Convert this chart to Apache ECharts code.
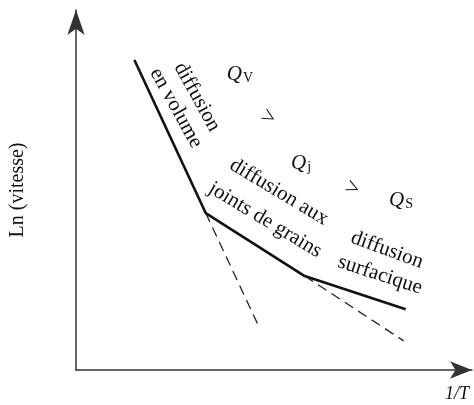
<!DOCTYPE html>
<html>
<head>
<meta charset="utf-8">
<script src="https://cdn.jsdelivr.net/npm/echarts@6/dist/echarts.min.js"></script>
<style>
html, body { margin: 0; padding: 0; background: #fff; }
#chart { width: 474px; height: 405px; }
</style>
</head>
<body>
<div id="chart"></div>
<script>
// abstract units: x 0..100 along 1/T, y 0..100 along Ln(vitesse)
var solidLine = [[14.75, 86.1], [32.75, 43.6], [57.75, 26.1], [83.25, 16.9]];
var dashVolume = [[32.75, 43.6], [46.25, 11.9]];
var dashJoints = [[57.75, 26.1], [82.75, 8.1]];
var axisNames = ['1/T', 'Ln (vitesse)'];

var serif = '"Liberation Serif", "DejaVu Serif", serif';
var ink = '#111';

function deg(a) { return a * Math.PI / 180; }

function label(x, y, text, rot, size) {
    return {
        type: 'text',
        x: x, y: y,
        rotation: deg(rot || 0),
        style: {
            text: text,
            fill: ink,
            font: (size || 21) + 'px ' + serif,
            align: 'center',
            verticalAlign: 'middle'
        }
    };
}

function qLabel(x, y, sub) {
    return {
        type: 'text',
        x: x, y: y,
        style: {
            text: '{q|Q}{s|' + sub + '}',
            fill: ink,
            align: 'center',
            verticalAlign: 'middle',
            rich: {
                q: { fontFamily: serif, fontStyle: 'italic', fontSize: 21, fill: ink },
                s: { fontFamily: serif, fontSize: 14, fill: ink, padding: [8, 0, 0, 1] }
            }
        }
    };
}

var myChart = echarts.init(document.getElementById('chart'));
var option = {
    animation: false,
    grid: { left: 72, right: 2, top: 10, bottom: 35 },
    xAxis: {
        type: 'value', min: 0, max: 100,
        axisLine: { show: true, symbol: ['none', 'arrow'], symbolSize: [13, 22],
            lineStyle: { color: '#333', width: 1.5 } },
        axisTick: { show: false }, axisLabel: { show: false }, splitLine: { show: false }
    },
    yAxis: {
        type: 'value', min: 0, max: 100,
        name: axisNames[1], nameLocation: 'middle', nameGap: 48, nameRotate: 90,
        nameTextStyle: { fontFamily: serif, fontSize: 20, color: ink },
        axisLine: { show: true, symbol: ['none', 'arrow'], symbolSize: [13, 25],
            lineStyle: { color: '#333', width: 1.5 } },
        axisTick: { show: false }, axisLabel: { show: false }, splitLine: { show: false }
    },
    graphic: [
        {
            type: 'text', x: 445, y: 394,
            style: { text: axisNames[0], fill: ink, font: 'italic 18px ' + serif,
                align: 'left', verticalAlign: 'middle' }
        },
        label(197, 97, 'diffusion', -61),
        label(176, 108, 'en volume', -61),
        qLabel(240, 74, 'V'),
        label(268, 118, '>', -30, 24),
        qLabel(301, 163, 'j'),
        label(279, 192, 'diffusion aux', -31),
        label(265, 220, 'joints de grains', -31),
        label(352, 189, '>', -25, 24),
        qLabel(401, 200, 'S'),
        label(387, 250, 'diffusion', -20),
        label(380, 275, 'surfacique', -18)
    ],
    series: [
        {
            type: 'line', data: solidLine, symbol: 'none',
            lineStyle: { color: ink, width: 2.6 }
        },
        {
            type: 'line', data: dashVolume, symbol: 'none',
            lineStyle: { color: '#222', width: 1.3, type: [10, 6] }
        },
        {
            type: 'line', data: dashJoints, symbol: 'none',
            lineStyle: { color: '#222', width: 1.3, type: [10, 6] }
        }
    ]
};
myChart.setOption(option);
window.onresize = myChart.resize;
</script>
</body>
</html>
